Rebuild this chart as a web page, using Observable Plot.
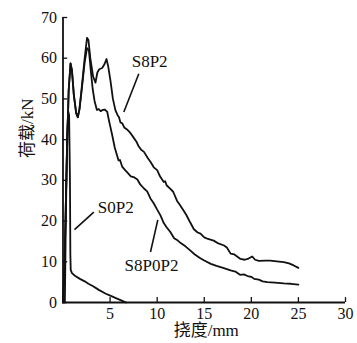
<!DOCTYPE html>
<html>
<head>
<meta charset="utf-8">
<script src="https://cdn.jsdelivr.net/npm/d3@7"></script>
<script src="https://cdn.jsdelivr.net/npm/@observablehq/plot@0.6"></script>
<style>
  html, body { margin: 0; padding: 0; background: #fff; }
  #chart { width: 357px; height: 343px; }
  #chart svg, #chart svg text { font-family: "Liberation Serif", "Times New Roman", Times, "DejaVu Serif", "Noto Sans CJK SC", serif !important; }
</style>
</head>
<body>
<div id="chart"></div>
<script>
// Series: [deflection (mm), load (kN)]
const s8p2 = [[0,0],[0.15,8],[0.4,35],[0.6,52],[0.8,58.7],[0.95,57],[1.15,51],[1.4,46.5],[1.57,45.5],[1.75,47.5],[2.0,53],[2.3,60],[2.55,65],[2.7,64.5],[2.9,60],[3.2,55.5],[3.45,54],[3.65,56.5],[3.85,57.3],[4.16,57.6],[4.4,58.5],[4.62,59.8],[4.8,58],[5.04,54.5],[5.3,50],[5.57,47.2],[5.8,46],[5.95,45.5],[6.1,44.2],[6.3,44],[6.5,43],[6.8,42.5],[7.1,41.8],[7.5,40.5],[7.8,39.5],[8.0,38.5],[8.3,37.5],[8.6,37],[9.0,35.5],[9.3,34.5],[9.64,33.2],[10.0,32.5],[10.3,31],[10.7,29.6],[10.85,29.8],[11.0,28.8],[11.4,27.9],[11.7,27.2],[12.1,25],[12.4,24],[12.8,22.6],[13.1,21.5],[13.5,19.7],[13.9,18],[14.3,17.2],[14.6,16.9],[15.0,16],[15.4,15.6],[16.0,15.2],[16.5,14.5],[17.1,14],[17.4,13.5],[17.8,12],[18.2,11.8],[18.85,10.7],[19.3,10.5],[19.7,10.8],[20.1,11.3],[20.4,10.5],[20.8,10.2],[21.5,10.3],[22.0,10.3],[22.7,10.1],[23.45,9.9],[24.0,9.6],[24.5,9.1],[25.0,8.5]];
const s8p0p2 = [[0,0],[0.15,8],[0.4,35],[0.6,52],[0.8,58.7],[0.95,57],[1.15,51],[1.4,46.5],[1.57,45.5],[1.75,47.5],[2.0,52.5],[2.3,59],[2.55,62.5],[2.75,62],[2.95,57],[3.15,52.5],[3.35,49.5],[3.6,47.3],[3.8,47.5],[4.0,47],[4.2,47.3],[4.45,47.4],[4.7,46.8],[4.9,44.5],[5.2,41.4],[5.5,38],[5.9,34.9],[6.05,35],[6.3,33.3],[6.6,32.5],[6.8,32],[7.2,31],[7.5,30.8],[7.9,30.2],[8.2,29],[8.6,28],[8.94,27.3],[9.3,25.5],[9.6,24.5],[10.0,22.8],[10.35,21.4],[10.7,19.5],[11.0,18.5],[11.4,17.3],[11.8,15.8],[12.2,15.2],[12.5,14.6],[13.0,13.8],[13.5,12.8],[14.0,11.8],[14.5,11],[15.0,10.3],[15.7,9.5],[16.3,9],[17.0,8.5],[17.8,7.9],[18.3,7.6],[18.8,6.8],[19.2,6.9],[19.6,6.5],[20.0,6.3],[20.3,5.8],[20.8,5.6],[21.2,5.2],[21.7,5.0],[22.5,4.9],[23.45,4.7],[24.2,4.6],[25.0,4.4]];
const s0p2 = [[0.2,0],[0.3,20],[0.45,42],[0.55,47],[0.65,46],[0.74,30],[0.78,12],[0.82,8],[0.95,7.2],[1.3,6.5],[1.8,5.8],[2.3,5.2],[2.7,4.6],[3.2,4.0],[3.8,3.1],[4.5,2.2],[5.2,1.5],[5.8,0.9],[6.3,0.4],[6.7,0]];

// Tick values
const xTicks = [5, 10, 15, 20, 25, 30];
const yTicks = [0, 10, 20, 30, 40, 50, 60, 70];

// Series annotations: label at (x, y), leader from (x1, y1) to (x2, y2)
const annotations = [
  {text: "S8P2", x: 9.2, y: 59.3, x1: 8.05, y1: 56.2, x2: 6.46, y2: 46.8},
  {text: "S0P2", x: 5.6, y: 23.2, x1: 3.27, y1: 22.2, x2: 1.22, y2: 17.9},
  {text: "S8P0P2", x: 9.4, y: 9.1, x1: 9.29, y1: 12.4, x2: 10.07, y2: 20.3}
];

const xLabel = "挠度/mm";
const yLabel = "荷载/kN";

const font = "'Liberation Serif', 'Times New Roman', Times, 'DejaVu Serif', 'Noto Sans CJK SC', serif";
const ink = "#111";

const chart = Plot.plot({
  width: 357,
  height: 343,
  marginLeft: 62.5,
  marginRight: 12,
  marginTop: 17,
  marginBottom: 41,
  style: `font-family: ${font}; font-size: 16px; color: ${ink}; background: #fff;`,
  x: {domain: [0, 30]},
  y: {domain: [0, 70]},
  marks: [
    Plot.axisX(xTicks, {tickSize: 0, tickPadding: 5, label: null, fontSize: 16, fontFamily: font}),
    Plot.axisY(yTicks, {tickSize: 0, tickPadding: 6, label: null, fontSize: 16, fontFamily: font}),
    Plot.ruleX(xTicks, {y1: 0, y2: 1.2, stroke: ink, strokeWidth: 1.3}),
    Plot.ruleY(yTicks, {x1: 0, x2: 0.5, stroke: ink, strokeWidth: 1.3}),
    Plot.ruleX([0], {stroke: ink, strokeWidth: 1.8}),
    Plot.ruleY([0], {stroke: ink, strokeWidth: 1.8}),
    Plot.line(s0p2, {x: d => d[0], y: d => d[1], stroke: ink, strokeWidth: 1.8}),
    Plot.line(s8p0p2, {x: d => d[0], y: d => d[1], stroke: ink, strokeWidth: 1.8}),
    Plot.line(s8p2, {x: d => d[0], y: d => d[1], stroke: ink, strokeWidth: 1.8}),
    Plot.link(annotations, {x1: "x1", y1: "y1", x2: "x2", y2: "y2", stroke: ink, strokeWidth: 1.6}),
    Plot.text(annotations, {x: "x", y: "y", text: "text", fontSize: 17, fontFamily: font, fill: ink, textAnchor: "middle", lineAnchor: "middle"}),
    Plot.text([xLabel], {frameAnchor: "bottom", dy: 33, dx: 2, fontSize: 17, fontFamily: font, fill: ink}),
    Plot.text([yLabel], {frameAnchor: "left", dx: -35, dy: -2, rotate: -90, fontSize: 17, fontFamily: font, fill: ink})
  ]
});
document.getElementById("chart").appendChild(chart);
</script>
</body>
</html>
